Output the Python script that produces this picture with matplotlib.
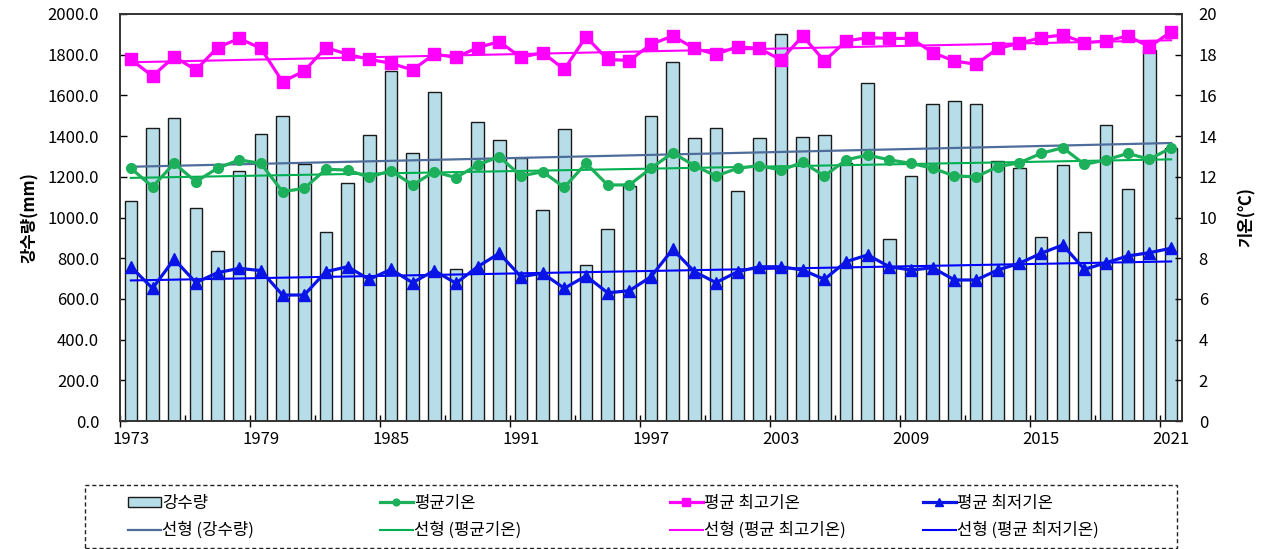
import numpy as np
import matplotlib
matplotlib.use("Agg")
import matplotlib.pyplot as plt
from matplotlib.patches import Rectangle

plt.rcParams['font.family'] = ['Noto Sans CJK KR', 'DejaVu Sans']

years = list(range(1973, 2022))
precip = [1080, 1440, 1490, 1045, 834, 1228, 1412, 1499, 1263, 929,
          1170, 1405, 1720, 1317, 1617, 747, 1469, 1382, 1291, 1037,
          1433, 767, 943, 1155, 1499, 1764, 1391, 1441, 1132, 1391,
          1903, 1397, 1405, 1266, 1659, 893, 1205, 1556, 1572, 1556,
          1279, 1242, 906, 1258, 927, 1455, 1140, 1825, 1340]
t_mean = [12.42, 11.51, 12.66, 11.76, 12.42, 12.83, 12.66, 11.27, 11.43, 12.37,
          12.33, 11.98, 12.30, 11.60, 12.25, 11.96, 12.58, 12.99, 12.04, 12.25,
          11.48, 12.66, 11.60, 11.60, 12.42, 13.18, 12.55, 12.04, 12.42, 12.55,
          12.33, 12.71, 12.04, 12.83, 13.07, 12.83, 12.66, 12.42, 12.04, 12.00,
          12.50, 12.69, 13.15, 13.43, 12.61, 12.83, 13.15, 12.86, 13.43]
t_max = [17.77, 16.95, 17.90, 17.25, 18.35, 18.80, 18.31, 16.67, 17.20, 18.35,
         18.02, 17.77, 17.58, 17.25, 18.03, 17.87, 18.35, 18.64, 17.87, 18.10,
         17.28, 18.88, 17.77, 17.71, 18.51, 18.92, 18.31, 18.02, 18.39, 18.31,
         17.74, 18.92, 17.69, 18.67, 18.84, 18.80, 18.80, 18.10, 17.69, 17.53,
         18.31, 18.56, 18.84, 18.97, 18.59, 18.67, 18.92, 18.39, 19.13]
t_min = [7.58, 6.52, 7.95, 6.80, 7.29, 7.50, 7.39, 6.19, 6.19, 7.34,
         7.58, 6.96, 7.45, 6.80, 7.39, 6.77, 7.58, 8.24, 7.09, 7.26,
         6.52, 7.13, 6.30, 6.40, 7.09, 8.44, 7.34, 6.80, 7.34, 7.58,
         7.58, 7.42, 6.96, 7.83, 8.16, 7.58, 7.42, 7.53, 6.93, 6.93,
         7.42, 7.75, 8.24, 8.65, 7.45, 7.78, 8.11, 8.27, 8.49]

labels = ['강수량', '평균기온', '평균 최고기온', '평균 최저기온']
trend_labels = ['선형 (강수량)', '선형 (평균기온)', '선형 (평균 최고기온)', '선형 (평균 최저기온)']

x = np.arange(len(years))

def trend(vals):
    c = np.polyfit(x, vals, 1)
    return np.polyval(c, x)

W, H = 1262, 549
fig = plt.figure(figsize=(W/100, H/100), dpi=100)
ax = fig.add_axes([120/W, 1-421/H, (1182-120)/W, (421-14)/H])
ax2 = ax.twinx()

FS = 12

bars = ax.bar(x, precip, width=0.58, color='#B7DEE8', edgecolor='#1a1a1a', linewidth=1.0, zorder=2)
tb, = ax.plot(x, trend(precip), color='#4F6D9A', lw=1.6, zorder=3)
ax.set_ylim(0, 2000)
ax.set_xlim(-0.5, len(years) - 0.5)
yt = np.arange(0, 2001, 200)
ax.set_yticks(yt)
ax.set_yticklabels([f'{v:.1f}' for v in yt], fontsize=FS)
ax.tick_params(axis='y', direction='in', length=5, width=1, pad=15)

# x ticks: boundaries every 6 (major), every 3 (minor), labels at centers
ax.set_xticks(np.arange(-0.5, len(years), 6))
ax.set_xticklabels([])
ax.set_xticks(np.arange(2.5, len(years), 6), minor=True)
ax.tick_params(axis='x', which='major', direction='inout', length=8, width=1)
ax.tick_params(axis='x', which='minor', direction='in', length=4, width=1)
sec = ax.secondary_xaxis('bottom')
sec.set_xticks(x[::6])
sec.set_xticklabels([str(years[i]) for i in x[::6]], fontsize=FS)
sec.tick_params(length=0, pad=7)
sec.spines['bottom'].set_visible(False)

ax.set_ylabel('강수량(mm)', fontsize=FS, fontweight='bold', labelpad=6)

ax2.set_ylim(0, 20)
ax2.set_yticks(np.arange(0, 21, 2))
ax2.set_yticklabels([str(v) for v in range(0, 21, 2)], fontsize=FS)
ax2.tick_params(axis='y', direction='in', length=5, width=1, pad=12)
ax2.set_ylabel('기온(℃)', fontsize=FS, fontweight='bold', labelpad=15, rotation=90)

tmx, = ax2.plot(x, trend(t_max), color='#FF00FF', lw=1.5, zorder=3)
tme, = ax2.plot(x, trend(t_mean), color='#00B050', lw=1.5, zorder=3)
tmn, = ax2.plot(x, trend(t_min), color='#0000FF', lw=1.5, zorder=3)
lmx, = ax2.plot(x, t_max, color='#FF00FF', lw=2.3, marker='s', ms=9, zorder=4)
lme, = ax2.plot(x, t_mean, color='#1DB05A', lw=2.3, marker='o', ms=7, zorder=4)
lmn, = ax2.plot(x, t_min, color='#0A14E6', lw=2.3, marker='^', ms=8.5, zorder=4)

for a in (ax, ax2):
    for s in a.spines.values():
        s.set_color('#333333')
        s.set_linewidth(1.2)

# legend: four columns placed like the reference, inside a dashed box
col_x = [128, 380, 670, 923]
groups = [(bars, tb), (lme, tme), (lmx, tmx), (lmn, tmn)]
for k, (h1, h2) in enumerate(groups):
    fig.legend([h1, h2], [labels[k], trend_labels[k]], loc='center left',
               bbox_to_anchor=(col_x[k]/W, 1-517/H), frameon=False,
               fontsize=FS, handlelength=1.95, handletextpad=0.1,
               labelspacing=0.62, borderpad=0, borderaxespad=0,
               markerscale=0.7, handleheight=0.6)

fig.patches.append(Rectangle((85/W, 1-548/H), (1177-85)/W, (548-485)/H,
                             transform=fig.transFigure, fill=False,
                             edgecolor='#222222', linewidth=1.0,
                             linestyle=(0, (3, 2))))

fig.savefig('out.png', dpi=100)
